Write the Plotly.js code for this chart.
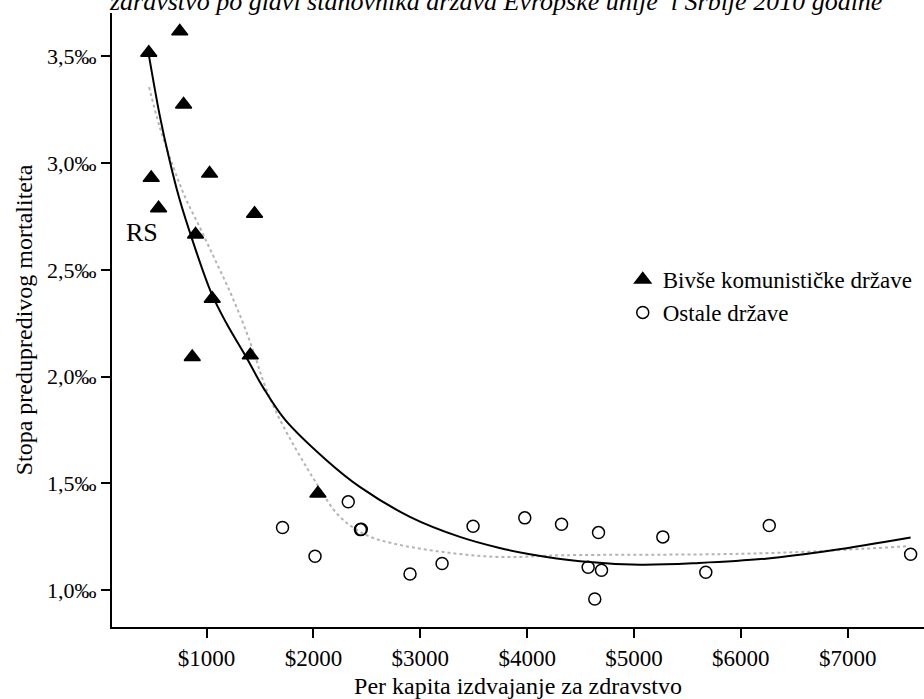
<!DOCTYPE html>
<html>
<head>
<meta charset="utf-8">
<script src="https://cdn.plot.ly/plotly-3.0.1.min.js"></script>
<style>html,body{margin:0;padding:0;background:#fff;}#chart{width:924px;height:699px;}</style>
</head>
<body>
<div id="chart"></div>
<script>
// Former communist states (filled triangles)
const triX = [459, 749, 785, 482, 1028, 551, 1449, 897, 1053, 866, 1409, 2042];
const triY = [3.517, 3.617, 3.275, 2.931, 2.951, 2.789, 2.763, 2.666, 2.365, 2.092, 2.100, 1.453];
// Other states (open circles)
const circX = [1711, 2015, 2326, 2440, 2448, 2904, 3204, 3494, 3978, 4322, 4668, 4571, 4696, 4633, 5270, 5672, 6266, 7589];
const circY = [1.294, 1.159, 1.414, 1.284, 1.286, 1.076, 1.125, 1.300, 1.339, 1.309, 1.270, 1.108, 1.094, 0.959, 1.250, 1.084, 1.303, 1.169];
// Fitted curve (solid)
const fitX = [462, 563, 646, 742, 874, 1046, 1186, 1373, 1529, 1732, 2122, 2434, 2903, 3371, 3743, 4026, 4494, 5056, 5609, 6233, 6857, 7589];
const fitY = [3.50, 3.22, 3.03, 2.84, 2.63, 2.39, 2.25, 2.09, 1.95, 1.80, 1.609, 1.484, 1.344, 1.25, 1.198, 1.169, 1.136, 1.12, 1.128, 1.148, 1.187, 1.247];
// Lowess curve (gray dotted)
const lowX = [462, 560, 690, 800, 936, 1077, 1217, 1342, 1451, 1545, 1685, 2029, 2248, 2497, 2747, 3215, 3743, 4338, 5805, 6546, 7170, 7560];
const lowY = [3.356, 3.172, 2.98, 2.84, 2.70, 2.55, 2.40, 2.25, 2.10, 1.96, 1.80, 1.50, 1.344, 1.258, 1.219, 1.179, 1.156, 1.164, 1.169, 1.179, 1.195, 1.206];
// Axis ticks
const xTickVals = [1000, 2000, 3000, 4000, 5000, 6000, 7000];
const xTickText = ['$1000', '$2000', '$3000', '$4000', '$5000', '$6000', '$7000'];
const yTickVals = [1.0, 1.5, 2.0, 2.5, 3.0, 3.5];
const yTickText = ['1,0‰', '1,5‰', '2,0‰', '2,5‰', '3,0‰', '3,5‰'];
const seriesNames = ['Bivše komunističke države', 'Ostale države'];

const FONT = 'Liberation Serif, Times New Roman, serif';

const traces = [
  {x: lowX, y: lowY, mode: 'lines', type: 'scatter', showlegend: false, hoverinfo: 'skip',
   line: {color: '#b4b4b4', width: 2, dash: 'dot', shape: 'spline', smoothing: 1}},
  {x: fitX, y: fitY, mode: 'lines', type: 'scatter', showlegend: false, hoverinfo: 'skip',
   line: {color: '#000', width: 2, shape: 'spline', smoothing: 1}},
  {x: triX, y: triY, mode: 'markers', type: 'scatter', name: seriesNames[0],
   marker: {symbol: 'triangle-up', size: 14, color: '#000', line: {color: '#000', width: 1.5}}},
  {x: circX, y: circY, mode: 'markers', type: 'scatter', name: seriesNames[1],
   marker: {symbol: 'circle-open', size: 12, color: '#000', line: {color: '#000', width: 1.5}}}
];

const layout = {
  width: 924, height: 699,
  margin: {l: 112, r: 0, t: 13, b: 72, pad: 0},
  paper_bgcolor: '#fff', plot_bgcolor: '#fff',
  font: {family: FONT, size: 23, color: '#000'},
  title: {
    text: '<i>zdravstvo po glavi stanovnika država Evropske unije  i Srbije 2010 godine</i>',
    font: {family: FONT, size: 26, color: '#000'},
    x: 0.537, xref: 'container', xanchor: 'center',
    y: 0.9985, yref: 'container', yanchor: 'middle'
  },
  xaxis: {
    range: [115, 7714], showgrid: false, zeroline: false,
    showline: true, linecolor: '#000', linewidth: 2,
    ticks: 'outside', ticklen: 9, tickwidth: 2, tickcolor: '#000',
    tickvals: xTickVals, ticktext: xTickText,
    tickfont: {family: FONT, size: 23},
    title: {text: 'Per kapita izdvajanje za zdravstvo', font: {family: FONT, size: 24}, standoff: 12}
  },
  yaxis: {
    range: [0.828, 3.703], showgrid: false, zeroline: false,
    showline: true, linecolor: '#000', linewidth: 2,
    ticks: 'outside', ticklen: 9, tickwidth: 2, tickcolor: '#000',
    tickvals: yTickVals, ticktext: yTickText,
    tickfont: {family: FONT, size: 22},
    title: {text: 'Stopa predupredivog mortaliteta', font: {family: FONT, size: 24}, standoff: 8}
  },
  legend: {
    x: 0.629, xanchor: 'left', y: 0.539, yanchor: 'middle',
    bgcolor: 'rgba(0,0,0,0)', borderwidth: 0,
    font: {family: FONT, size: 23}, tracegroupgap: 0
  },
  annotations: [
    {x: 400, y: 2.675, xref: 'x', yref: 'y', text: 'RS', showarrow: false,
     font: {family: FONT, size: 26, color: '#000'}, xanchor: 'center', yanchor: 'middle'}
  ],
  showlegend: true
};

Plotly.newPlot('chart', traces, layout, {displayModeBar: false, staticPlot: true});
</script>
</body>
</html>
